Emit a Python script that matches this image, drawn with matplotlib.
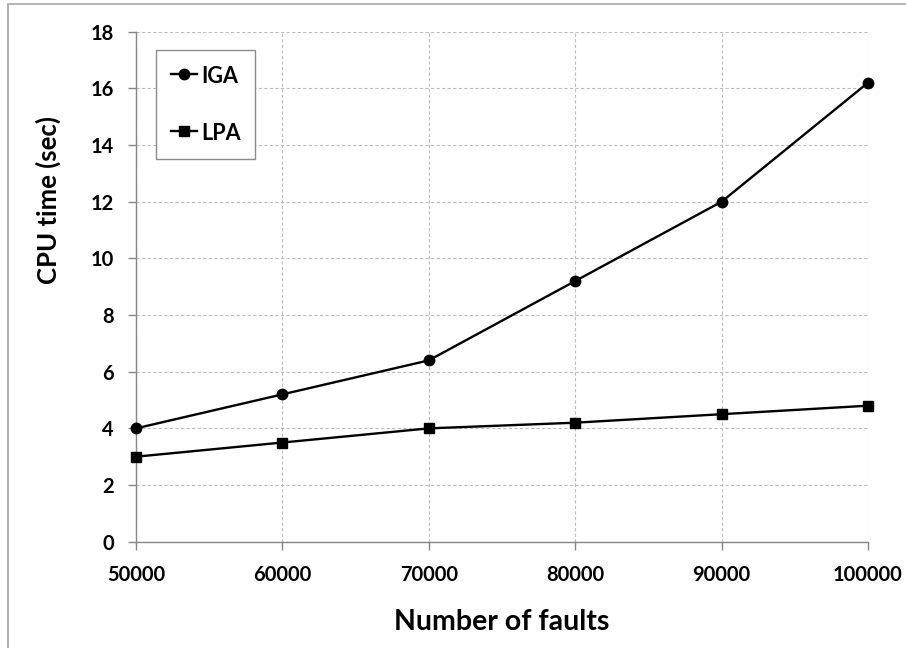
import numpy as np
import matplotlib
matplotlib.use("Agg")
import matplotlib.pyplot as plt
from matplotlib.patches import Rectangle

plt.rcParams['font.family'] = ['Lato', 'DejaVu Sans']
plt.rcParams['font.weight'] = 'bold'

# data
faults = [50000, 60000, 70000, 80000, 90000, 100000]
iga_time = [4.0, 5.2, 6.4, 9.2, 12.0, 16.2]
lpa_time = [3.0, 3.5, 4.0, 4.2, 4.5, 4.8]

fig = plt.figure(figsize=(9.06, 6.48), dpi=100)
ax = fig.add_axes([136/906, 1 - 541.7/648, 732/906, 510/648])

# outer chart border (top and left visible only)
fig.patches.append(Rectangle((8/906, -0.1), 1.2, 1 - 4/648 + 0.1,
                             transform=fig.transFigure, fill=False,
                             edgecolor='#a6a6a6', linewidth=1.2))

ax.plot(faults, iga_time, color='black', lw=1.7, marker='o', ms=7.5,
        label='IGA', clip_on=False, zorder=3)
ax.plot(faults, lpa_time, color='black', lw=1.7, marker='s', ms=7,
        label='LPA', clip_on=False, zorder=3)

ax.set_xlim(50000, 100000)
ax.set_ylim(0, 18)
ax.set_xticks(np.arange(50000, 100001, 10000))
ax.set_yticks(np.arange(0, 19, 2))

ax.grid(True, color='#bdbdbd', linestyle=(0, (3, 2)), linewidth=0.8)
ax.set_axisbelow(True)
for s in ['top', 'right']:
    ax.spines[s].set_visible(False)
for s in ['left', 'bottom']:
    ax.spines[s].set_color('#868686')
    ax.spines[s].set_linewidth(1.0)

ax.tick_params(axis='both', colors='#868686', labelcolor='black',
               labelsize=14.5, length=6, width=1.0)
ax.tick_params(axis='y', pad=10)
ax.tick_params(axis='x', pad=11)

ax.set_xlabel('Number of faults', fontsize=20.5, fontweight='bold')
ax.xaxis.set_label_coords(0.5, (541.7 - 622) / 510)
ax.xaxis.label.set_va('center')
ax.set_ylabel('CPU time (sec)', fontsize=18.5, fontweight='bold')
ax.yaxis.set_label_coords((48 - 136) / 732, (541.7 - 200) / 510)
ax.yaxis.label.set_va('center')

leg = ax.legend(loc='upper left', bbox_to_anchor=((155.7 - 136) / 732, (541.7 - 50) / 510),
                borderaxespad=0, fontsize=15.5, handlelength=1.2, handletextpad=0.2,
                handleheight=1.2, labelspacing=1.6, borderpad=0.7,
                fancybox=False, framealpha=1, edgecolor='#8c8c8c')
leg.get_frame().set_linewidth(1.0)

fig.savefig('out.png', dpi=100)
